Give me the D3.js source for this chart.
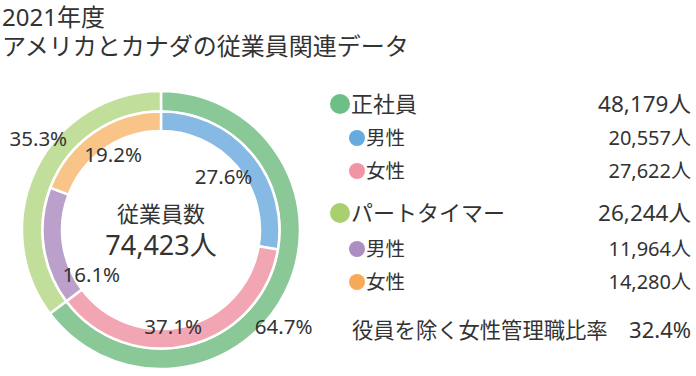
<!DOCTYPE html>
<html>
<head>
<meta charset="utf-8">
<script src="https://cdn.jsdelivr.net/npm/d3@7"></script>
<style>
  body { margin: 0; background: #fff; }
  text { font-family: "Noto Sans", "Noto Sans CJK JP", sans-serif; fill: #333; }
  .cjk { font-family: "Noto Sans CJK JP", sans-serif; }
</style>
</head>
<body>
<div id="chart"></div>
<script>
const width = 696;
const height = 376;

// data
const titleLines = ["2021年度", "アメリカとカナダの従業員関連データ"];
const outerNames = ["正社員", "パートタイマー"];
const outerValues = [48179, 26244];
const innerNames = ["男性", "女性", "男性", "女性"];
const innerValues = [20557, 27622, 11964, 14280];
const centerTitle = "従業員数";
const ratioLabel = "役員を除く女性管理職比率";
const ratioValue = 32.4;

// colours
const outerColors = ["#8bc898", "#c2de9b"];
const innerColors = ["#86b9e3", "#f2a6b3", "#bba0cb", "#f9c487"];
const outerDots = ["#6dbf88", "#a8d06f"];
const innerDots = ["#64acdf", "#f094a6", "#ae8dc3", "#f6aa57"];

// label placement along each slice (fraction of slice, radius)
const outerLabelT = [0.55, 0.58];
const outerLabelR = [156, 153];
const innerLabelT = [0.5, 0.55, 0.07, 0.53];
const innerLabelR = [82, 98, 83, 89];

const cx = 161, cy = 230;
const total = d3.sum(outerValues);
const pct = d3.format(".1%");
const num = d3.format(",");

const svg = d3.select('#chart')
    .append('svg')
    .attr('width', width)
    .attr('height', height)
    .attr('viewBox', [0, 0, width, height]);

svg.append('g')
    .selectAll('text')
    .data(titleLines)
    .join('text')
        .attr('x', 2)
        .attr('y', (d, i) => 26 + i * 29)
        .attr('font-size', '24px')
        .text(d => d);

const pie = d3.pie().sort(null).value(d => d);
const outerArcs = pie(outerValues);
const innerArcs = pie(innerValues);

const outerArc = d3.arc().innerRadius(118.5).outerRadius(139);
const innerArc = d3.arc().innerRadius(99).outerRadius(118.5);

const donut = svg.append('g').attr('transform', `translate(${cx},${cy})`);

donut.append('g')
    .selectAll('path')
    .data(outerArcs)
    .join('path')
        .attr('d', outerArc)
        .attr('fill', (d, i) => outerColors[i])
        .attr('stroke', '#fff')
        .attr('stroke-width', 2.5);

donut.append('g')
    .selectAll('path')
    .data(innerArcs)
    .join('path')
        .attr('d', innerArc)
        .attr('fill', (d, i) => innerColors[i])
        .attr('stroke', '#fff')
        .attr('stroke-width', 2.5);

function labelPos(d, t, r) {
    const a = d.startAngle + (d.endAngle - d.startAngle) * t;
    return [r * Math.sin(a), -r * Math.cos(a)];
}

donut.append('g')
    .selectAll('text')
    .data(outerArcs)
    .join('text')
        .attr('transform', (d, i) => `translate(${labelPos(d, outerLabelT[i], outerLabelR[i])})`)
        .attr('text-anchor', 'middle')
        .attr('dy', '0.35em')
        .attr('font-size', '20.5px')
        .text(d => pct(d.value / total));

donut.append('g')
    .selectAll('text')
    .data(innerArcs)
    .join('text')
        .attr('transform', (d, i) => `translate(${labelPos(d, innerLabelT[i], innerLabelR[i])})`)
        .attr('text-anchor', 'middle')
        .attr('dy', '0.35em')
        .attr('font-size', '20.5px')
        .text(d => pct(d.value / total));

donut.append('text')
    .attr('class', 'cjk')
    .attr('text-anchor', 'middle')
    .attr('y', -8)
    .attr('font-size', '22px')
    .text(centerTitle);

donut.append('text')
    .attr('text-anchor', 'middle')
    .attr('y', 25)
    .attr('font-size', '27px')
    .text(`${num(total)}人`);

// legend
const rows = [];
outerNames.forEach((name, i) => {
    rows.push({ name, value: outerValues[i], dot: outerDots[i], main: true });
    innerNames.slice(i * 2, i * 2 + 2).forEach((sub, j) => {
        rows.push({ name: sub, value: innerValues[i * 2 + j], dot: innerDots[i * 2 + j], main: false });
    });
});
const rowY = [104, 138, 171, 213, 249, 282];

const legend = svg.append('g')
    .selectAll('g')
    .data(rows)
    .join('g')
        .attr('transform', (d, i) => `translate(0,${rowY[i]})`);

legend.append('circle')
    .attr('cx', d => d.main ? 340 : 357)
    .attr('r', d => d.main ? 10 : 8)
    .attr('fill', d => d.dot);

legend.append('text')
    .attr('class', 'cjk')
    .attr('x', d => d.main ? 351 : 366)
    .attr('dy', '0.36em')
    .attr('font-size', d => d.main ? '22px' : '19.5px')
    .text(d => d.name);

legend.append('text')
    .attr('x', 691)
    .attr('text-anchor', 'end')
    .attr('dy', '0.36em')
    .attr('font-size', d => d.main ? '22.5px' : '20px')
    .text(d => `${num(d.value)}人`);

svg.append('text')
    .attr('class', 'cjk')
    .attr('x', 352)
    .attr('y', 330)
    .attr('dy', '0.36em')
    .attr('font-size', '21.3px')
    .text(ratioLabel);

svg.append('text')
    .attr('x', 691)
    .attr('y', 330)
    .attr('dy', '0.36em')
    .attr('text-anchor', 'end')
    .attr('font-size', '22px')
    .text(`${ratioValue}%`);
</script>
</body>
</html>
